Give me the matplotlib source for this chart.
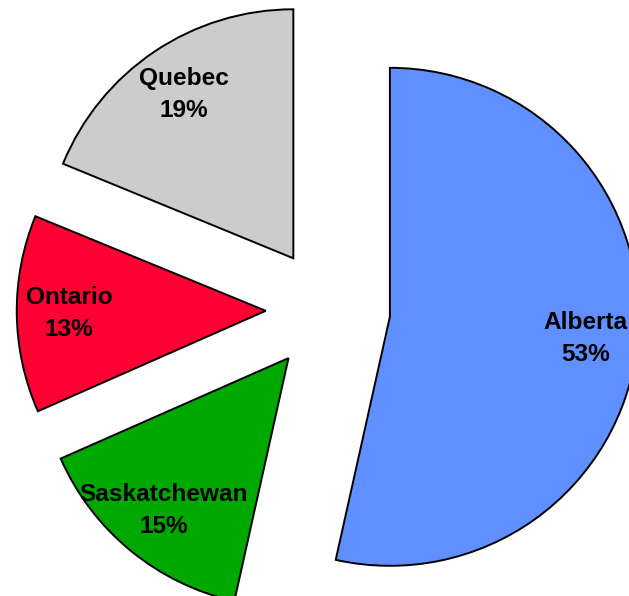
import matplotlib
matplotlib.use('Agg')
import matplotlib.pyplot as plt

provinces = ['Alberta', 'Saskatchewan', 'Ontario', 'Quebec']
shares = [53.49, 14.9, 12.81, 18.8]
colors = ['#6090FF', '#00A800', '#FF0033', '#CCCCCC']

plt.rcParams['font.family'] = ['Liberation Sans', 'DejaVu Sans']

fig = plt.figure(figsize=(6.29, 5.96), dpi=100)
ax = fig.add_axes([0, 0, 1, 1])

labels = iter(provinces)
def fmt(pct):
    return '%s\n%.0f%%' % (next(labels), pct)

wedges, texts, autotexts = ax.pie(shares, colors=colors, explode=[0.25] * 4,
                                  startangle=90, counterclock=False,
                                  autopct=fmt, pctdistance=0.79,
                                  wedgeprops=dict(edgecolor='black', linewidth=1.4),
                                  textprops=dict(fontsize=17.6, fontweight='bold', color='black'))
for t in autotexts:
    t.set_linespacing(1.5)

ax.set_aspect('auto')
ax.set_xlim(-328 / 249, 301 / 249)
ax.set_ylim(-286 / 249, 310 / 249)
ax.axis('off')

fig.savefig('out.png', dpi=100)
